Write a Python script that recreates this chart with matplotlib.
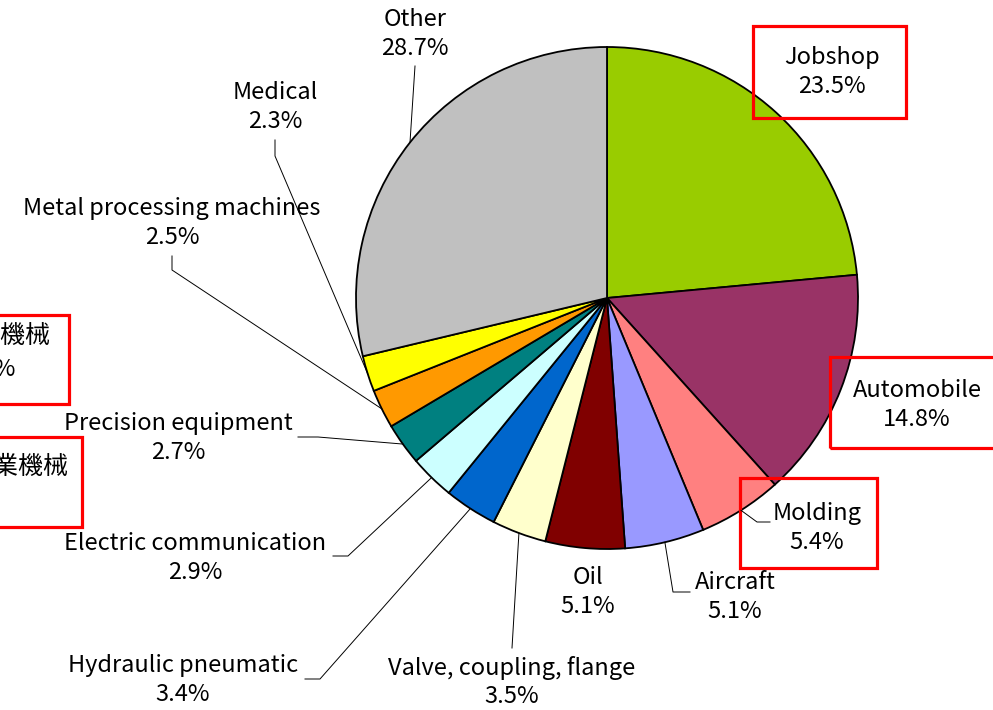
import numpy as np
import matplotlib.pyplot as plt
from matplotlib.patches import Rectangle

plt.rcParams['font.family'] = ['Noto Sans CJK JP', 'DejaVu Sans']

W, H = 993, 710

# data
categories = ['Jobshop', 'Automobile', 'Molding', 'Aircraft', 'Oil',
              'Valve, coupling, flange', 'Hydraulic pneumatic',
              'Electric communication', 'Precision equipment',
              'Metal processing machines', 'Medical', 'Other']
shares = [23.5, 14.8, 5.4, 5.1, 5.1, 3.5, 3.4, 2.9, 2.7, 2.5, 2.3, 28.7]
colors = ['#99CC00', '#993366', '#FF8080', '#9999FF', '#800000', '#FFFFCC',
          '#0066CC', '#CCFFFF', '#008080', '#FF9900', '#FFFF00', '#C0C0C0']

# label layout in pixel coords (x, y from top): text centre, leader points
label_pos = {
    'Jobshop': (832, 72),
    'Automobile': (917, 405),
    'Molding': (817, 528),
    'Aircraft': (735, 597),
    'Oil': (588, 592),
    'Valve, coupling, flange': (512, 682),
    'Hydraulic pneumatic': (183, 680),
    'Electric communication': (195, 558),
    'Precision equipment': (178, 438),
    'Metal processing machines': (172, 223),
    'Medical': (275, 107),
    'Other': (415, 34),
}
leaders = {
    'Molding': [(770, 522), (757, 522)],
    'Aircraft': [(690, 592), (673, 592)],
    'Valve, coupling, flange': [(512, 648)],
    'Hydraulic pneumatic': [(305, 679), (320, 679)],
    'Electric communication': [(333, 556), (348, 556)],
    'Precision equipment': [(298, 437), (318, 437)],
    'Metal processing machines': [(172, 256), (172, 270)],
    'Medical': [(275, 140), (275, 156)],
    'Other': [(415, 66)],
}
boxes = {
    'Jobshop': (753, 26, 906, 118),
    'Automobile': (830, 357, 998, 448),
    'Molding': (740, 478, 877, 568),
}
# cropped japanese labels at the left edge
side_boxes = [(-5, 315, 69, 404), (-5, 437, 82, 527)]


def px(x, y):
    return x, H - y


fig = plt.figure(figsize=(W / 100, H / 100), dpi=100)
ax = fig.add_axes([0, 0, 1, 1])

cx, cy = px(607, 298)
R = 251
wedges, _ = ax.pie(shares, colors=colors, startangle=90, counterclock=False,
                   center=(cx, cy), radius=R,
                   wedgeprops=dict(edgecolor='black', linewidth=1.3))

ax.set_xlim(0, W)
ax.set_ylim(0, H)
ax.set_aspect('equal')
ax.axis('off')

for wedge, name, val in zip(wedges, categories, shares):
    tx, ty = px(*label_pos[name])
    ax.text(tx, ty, f'{name}\n{val:.1f}%', ha='center', va='center',
            fontsize=17, linespacing=1.3)
    if name in leaders:
        mid = np.deg2rad((wedge.theta1 + wedge.theta2) / 2)
        ex, ey = cx + R * np.cos(mid), cy + R * np.sin(mid)
        pts = [px(*p) for p in leaders[name]] + [(ex, ey)]
        xs, ys = zip(*pts)
        ax.plot(xs, ys, color='black', lw=0.7)

for name, (x0, y0, x1, y1) in boxes.items():
    ax.add_patch(Rectangle(px(x0, y1), x1 - x0, y1 - y0, fill=False,
                           edgecolor='#FF0000', lw=2.3, clip_on=False))
for (x0, y0, x1, y1) in side_boxes:
    ax.add_patch(Rectangle(px(x0, y1), x1 - x0, y1 - y0, fill=False,
                           edgecolor='#FF0000', lw=2.3, clip_on=False))

ax.text(*px(51, 336), '工作機械', ha='right', va='center', fontsize=18)
ax.text(*px(16, 370), '6.2%', ha='right', va='center', fontsize=17)
ax.text(*px(68, 467), '産業機械', ha='right', va='center', fontsize=18)

fig.savefig('out.png', dpi=100)
